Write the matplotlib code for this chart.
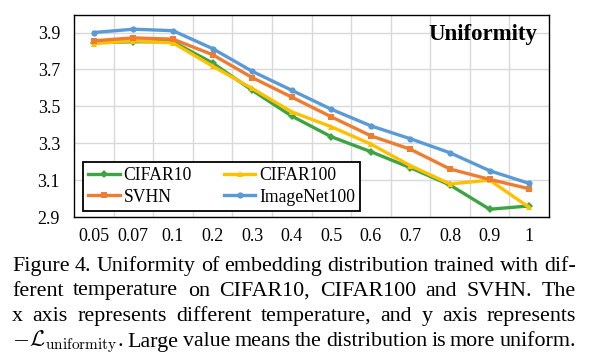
import numpy as np
import matplotlib
matplotlib.use('Agg')
import matplotlib.pyplot as plt

# Dados
temperaturas = ['0.05', '0.07', '0.1', '0.2', '0.3', '0.4', '0.5', '0.6', '0.7', '0.8', '0.9', '1']
cifar10 = [3.845, 3.850, 3.850, 3.735, 3.587, 3.447, 3.335, 3.254, 3.167, 3.073, 2.942, 2.960]
cifar100 = [3.840, 3.855, 3.844, 3.718, 3.597, 3.470, 3.389, 3.295, 3.178, 3.079, 3.100, 2.952]
svhn = [3.855, 3.871, 3.864, 3.780, 3.656, 3.550, 3.443, 3.340, 3.267, 3.160, 3.104, 3.053]
imagenet100 = [3.900, 3.918, 3.910, 3.813, 3.690, 3.587, 3.484, 3.394, 3.324, 3.248, 3.151, 3.082]
y_ticks = [2.9, 3.1, 3.3, 3.5, 3.7, 3.9]

legenda = ['CIFAR10', 'CIFAR100', 'SVHN', 'ImageNet100']
cores = ['#3DA444', '#FFC000', '#ED7D31', '#5B9BD5']
marcadores = ['D', '^', 's', 'o']

legenda_texto = [
    'Figure 4. Uniformity of embedding distribution trained with dif-',
    'ferent temperature on CIFAR10, CIFAR100 and SVHN. The',
    'x axis represents different temperature, and y axis represents',
    r'$-\mathcal{L}_{\mathrm{uniformity}}$. Large value means the distribution is more uniform.',
]

plt.rcParams['font.family'] = ['Liberation Serif', 'DejaVu Serif']
plt.rcParams['mathtext.fontset'] = 'cm'

fig = plt.figure(figsize=(6.01, 3.61), dpi=100)
ax = fig.add_axes([74 / 601, 1 - 217 / 361, 475 / 601, 202 / 361])

x = np.arange(len(temperaturas))
series = [cifar10, cifar100, svhn, imagenet100]
linhas = []
for vals, nome, cor, m in zip(series, legenda, cores, marcadores):
    ln, = ax.plot(x, vals, color=cor, linewidth=2.4, marker=m, markersize=4.5,
                  markeredgewidth=0, label=nome, zorder=3)
    linhas.append(ln)

ax.set_xlim(-0.5, len(temperaturas) - 0.5)
ax.set_ylim(2.9, 3.995)
ax.set_yticks(y_ticks)
ax.set_yticklabels([f'{v:.1f}' for v in y_ticks])
ax.set_xticks(x)
ax.set_xticklabels(temperaturas)
ax.set_xticks(np.arange(0.5, len(temperaturas) - 0.5, 1), minor=True)
ax.tick_params(axis='both', which='both', length=0, labelsize=13)
ax.tick_params(axis='x', pad=8)
ax.tick_params(axis='y', pad=10)
ax.grid(True, axis='y', which='major', color='#D9D9D9', linewidth=1)
ax.grid(True, axis='x', which='minor', color='#D9D9D9', linewidth=1)
ax.grid(False, axis='x', which='major')
ax.set_axisbelow(True)
for s in ax.spines.values():
    s.set_linewidth(1.0)
    s.set_color('black')

ax.text(0.975, 0.955, 'Uniformity', transform=ax.transAxes, ha='right', va='top',
        fontsize=16.5, fontweight='bold')

# ordem por colunas para que as linhas fiquem como no original
leg = ax.legend(handles=[linhas[0], linhas[2], linhas[1], linhas[3]], ncol=2,
                loc='lower left', bbox_to_anchor=(0.019, 0.03), fontsize=12.7,
                frameon=True, fancybox=False, edgecolor='black', framealpha=1,
                handlelength=1.8, handletextpad=0.2, columnspacing=1.8,
                labelspacing=0.25, borderpad=0.3, borderaxespad=0)
leg.get_frame().set_linewidth(1.3)

# Legenda da figura, com texto justificado
renderer = fig.canvas.get_renderer()
x0, x1 = 12, 576
baselines = [270.7, 295.5, 321.0, 346.5]
for linha, yb in zip(legenda_texto, baselines):
    palavras = linha.split(' ')
    textos = [fig.text(0, 1 - yb / 361, p, fontsize=15.8, va='baseline', ha='left')
              for p in palavras]
    larguras = [t.get_window_extent(renderer).width for t in textos]
    espaco = (x1 - x0 - sum(larguras)) / (len(palavras) - 1)
    pos = x0
    for t, w in zip(textos, larguras):
        t.set_x(pos / 601)
        pos += w + espaco

fig.savefig('out.png', dpi=100)
